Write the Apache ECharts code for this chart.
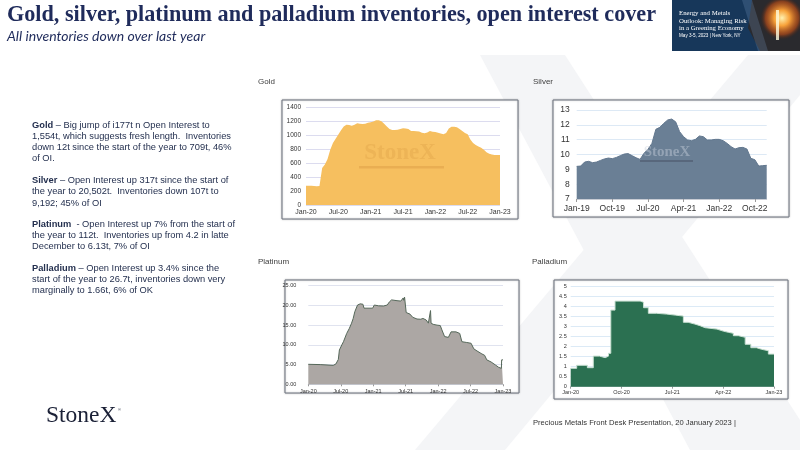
<!DOCTYPE html>
<html><head><meta charset="utf-8">
<script src="https://cdn.jsdelivr.net/npm/echarts@6/dist/echarts.min.js"></script>
<style>html,body{margin:0;padding:0;background:#fff}#c{width:800px;height:450px}</style>
</head><body><div id="c"></div>
<script>
// ---- Data ----
const goldTicks = ['Jan-20','Jul-20','Jan-21','Jul-21','Jan-22','Jul-22','Jan-23'];
// semi-monthly, Jan-20 .. Jan-23 (tonnes)
const goldValues = [275,275,275,272,270,272,530,580,660,790,890,950,1010,1070,1125,1150,1145,1135,1150,1170,
  1165,1160,1165,1180,1185,1195,1215,1215,1200,1165,1125,1090,1075,1075,1080,1090,1100,1095,1090,1062,
  1062,1058,1052,1035,1028,1040,1060,1050,1045,1035,1025,1013,1030,1095,1120,1120,1115,1090,1060,1030,
  1013,940,890,860,840,820,790,755,735,722,717,717,715];

const silverTicks = ['Jan-19','Oct-19','Jul-20','Apr-21','Jan-22','Oct-22'];
// monthly, Jan-19 .. Jan-23 (thousand tonnes)
const silverValues = [9.2,9.22,9.49,9.54,9.45,9.49,9.6,9.7,9.76,9.72,9.8,9.92,10.03,10.06,9.92,9.78,9.67,10.08,10.35,10.75,
  11.7,11.83,12.1,12.33,12.39,12.2,11.54,11.2,10.98,10.93,11.02,11.25,11.2,10.98,10.98,11.02,11.02,10.93,10.75,10.53,
  10.37,10.46,10.48,10.37,9.74,9.65,9.22,9.25,9.27];

const platTicks = ['Jan-20','Jul-20','Jan-21','Jul-21','Jan-22','Jul-22','Jan-23'];
// months since Jan-20
const platMonths = [0,2.2,2.5,4.6,5.1,5.55,5.75,6.2,6.5,7.1,7.6,8.0,8.3,8.6,9.1,9.6,10.1,10.3,11.9,12.2,
  13.0,13.9,14.6,15.0,15.4,16.4,17.1,17.4,17.55,17.65,17.8,18.0,18.1,18.8,19.3,20.1,20.8,21.2,21.8,22.2,
  22.5,22.6,22.7,23.1,23.8,24.4,24.7,25.2,25.9,26.2,26.4,27.3,28.0,28.4,29.3,30.1,30.6,31.2,32.1,32.6,
  33.0,33.8,34.6,35.2,35.7,35.75,36];
const platValues = [5.07,5.0,4.8,4.8,5.15,6.3,8.7,10.0,10.8,12.9,14.2,15.5,16.7,18.4,20.1,20.4,20.3,19.3,19.3,20.1,
  19.9,19.85,20.1,20.9,21.4,21.2,21.1,21.3,21.9,21.3,22.1,22.2,18.2,17.8,17.0,16.55,16.5,16.7,16.3,15.5,
  15.5,18.7,15.5,15.2,15.0,14.9,13.8,12.1,11.9,12.2,13.3,13.3,12.9,10.8,10.6,10.4,9.0,8.45,7.7,7.35,
  6.2,5.66,4.9,4.3,4.05,6.2,6.2];

const pallTicks = ['Jan-20','Oct-20','Jul-21','Apr-22','Jan-23'];
const pallMonths = [0,1.06,2.95,4.0,5.1,6.1,6.7,7.1,7.85,12.3,12.9,13.75,15.2,17,18.5,19.95,20.8,22,22.9,23.8,
  25.9,27,27.9,28.8,29.7,30.9,31.9,32.9,33.8,35,36];
const pallValues = [0.92,1.07,0.95,1.53,1.45,1.53,1.67,3.83,4.28,4.22,3.95,3.67,3.63,3.58,3.53,3.22,3.13,3.05,2.95,2.88,
  2.78,2.72,2.67,2.55,2.47,2.12,1.95,1.87,1.80,1.63,1.63];

// ---- helpers ----
function tickFmt(ticks, step){
  return function(v){ const k = Math.round(v/step); return Math.abs(v-k*step) < 1e-6 && ticks[k] !== undefined ? ticks[k] : ''; };
}
function custom(ticks, step){ return ticks.map((t,i)=>i*step); }

const chart = echarts.init(document.getElementById('c'), null, {renderer:'canvas'});
const SANS = 'Liberation Sans';
const SERIF = 'Liberation Serif';
const NAVY = '#1f2b5b';
const TXT = '#24304f';

const paraRich = {b:{fontWeight:'bold', fontSize:9.3, fontFamily:SANS, fill:TXT, lineHeight:11.2}};
function para(x, y, text){
  return {type:'text', x:x, y:y, z:5, style:{text:text, font:'9.3px '+SANS, fill:TXT, lineHeight:11.2, rich:paraRich}};
}
const frameStyle = {fill:'#fff', stroke:'#6e7480', lineWidth:1, shadowBlur:2, shadowColor:'rgba(0,0,0,0.25)'};

const option = {
  animation:false,
  backgroundColor:'#ffffff',
  grid:[
    {left:306, right:300, top:107.3, bottom:245},
    {left:576.7, right:33.3, top:110, bottom:251},
    {left:308.3, right:297, top:285.7, bottom:65.7},
    {left:570.7, right:26, top:286.7, bottom:63.3}
  ],
  xAxis:[
    {gridIndex:0, type:'value', min:0, max:36, interval:6,
     axisLabel:{formatter:tickFmt(goldTicks,6), fontSize:7, color:'#333', margin:4, fontFamily:SANS},
     axisLine:{show:false}, axisTick:{show:false}, splitLine:{show:false}},
    {gridIndex:1, type:'value', min:0, max:48,
     axisLabel:{customValues:custom(silverTicks,9), formatter:tickFmt(silverTicks,9), fontSize:8.5, color:'#333', margin:5, fontFamily:SANS},
     axisLine:{show:true, lineStyle:{color:'#c8ccd4'}}, axisTick:{show:true, customValues:custom(silverTicks,9), length:3, lineStyle:{color:'#999'}}, splitLine:{show:false}},
    {gridIndex:2, type:'value', min:0, max:36, interval:6,
     axisLabel:{formatter:tickFmt(platTicks,6), fontSize:5.5, color:'#333', margin:4, fontFamily:SANS},
     axisLine:{show:true, lineStyle:{color:'#c8ccd4'}}, axisTick:{show:true, length:2, lineStyle:{color:'#999'}}, splitLine:{show:false}},
    {gridIndex:3, type:'value', min:0, max:36, interval:9,
     axisLabel:{formatter:tickFmt(pallTicks,9), fontSize:5.5, color:'#333', margin:3, fontFamily:SANS},
     axisLine:{show:true, lineStyle:{color:'#c8ccd4'}}, axisTick:{show:true, length:2, lineStyle:{color:'#999'}}, splitLine:{show:false}}
  ],
  yAxis:[
    {gridIndex:0, type:'value', min:0, max:1400, interval:200,
     axisLabel:{fontSize:6.5, color:'#333', margin:5, fontFamily:SANS, formatter:v=>String(v)},
     axisLine:{show:false}, axisTick:{show:false}, splitLine:{lineStyle:{color:'#dcdcef'}}},
    {gridIndex:1, type:'value', min:7, max:13, interval:1,
     axisLabel:{fontSize:8.5, color:'#333', margin:7, fontFamily:SANS},
     axisLine:{show:false}, axisTick:{show:false}, splitLine:{lineStyle:{color:'#dde9f5'}}},
    {gridIndex:2, type:'value', min:0, max:25, interval:5,
     axisLabel:{fontSize:5.5, color:'#333', margin:12, fontFamily:SANS, formatter:v=>v.toFixed(2)},
     axisLine:{show:false}, axisTick:{show:false}, splitLine:{lineStyle:{color:'#e0e3ef'}}},
    {gridIndex:3, type:'value', min:0, max:5, interval:0.5,
     axisLabel:{fontSize:5.5, color:'#333', margin:4, fontFamily:SANS},
     axisLine:{show:false}, axisTick:{show:false}, splitLine:{lineStyle:{color:'#dceaf6'}}}
  ],
  series:[
    {type:'line', xAxisIndex:0, yAxisIndex:0, symbol:'none', silent:true,
     data:goldValues.map((v,i)=>[i/2, v]),
     lineStyle:{opacity:0}, areaStyle:{color:'#f6bf5f', opacity:1}},
    {type:'line', xAxisIndex:1, yAxisIndex:1, symbol:'none', silent:true,
     data:silverValues.map((v,i)=>[i, v]),
     lineStyle:{color:'#62778e', width:1}, areaStyle:{color:'#6a7f95', opacity:1}},
    {type:'line', xAxisIndex:2, yAxisIndex:2, symbol:'none', silent:true,
     data:platMonths.map((m,i)=>[m, platValues[i]]),
     lineStyle:{color:'#56685a', width:1}, areaStyle:{color:'#aca7a4', opacity:1}},
    {type:'line', xAxisIndex:3, yAxisIndex:3, symbol:'none', silent:true, step:'end',
     data:pallMonths.map((m,i)=>[m, pallValues[i]]),
     lineStyle:{color:'#c9e0d2', width:1}, areaStyle:{color:'#2b7051', opacity:1}}
  ],
  graphic:{elements:[
    // watermark X (background)
    {type:'polygon', z:-3, shape:{points:[[480,55],[565,55],[800,420],[800,450],[690,450]]}, style:{fill:'#f4f5f7'}},
    {type:'polygon', z:-3, shape:{points:[[748,55],[800,55],[800,95],[505,450],[415,450]]}, style:{fill:'#f4f5f7'}},
    // chart frames (behind axes)
    {type:'rect', z:-2, shape:{x:282,y:100,width:236,height:119}, style:frameStyle},
    {type:'rect', z:-2, shape:{x:553,y:100,width:236,height:117}, style:frameStyle},
    {type:'rect', z:-2, shape:{x:285,y:280,width:234,height:113}, style:frameStyle},
    {type:'rect', z:-2, shape:{x:554,y:280,width:234,height:119}, style:frameStyle},
    // StoneX watermarks inside charts
    {type:'text', z:10, x:400, y:153, style:{text:'StoneX', font:'bold 23px '+SERIF, fill:'rgba(205,140,55,0.22)', align:'center', verticalAlign:'middle'}},
    {type:'rect', z:10, shape:{x:359,y:166,width:85,height:2.5}, style:{fill:'rgba(200,130,50,0.28)'}},
    {type:'text', z:10, x:667, y:152, style:{text:'StoneX', font:'bold 15px '+SERIF, fill:'rgba(200,208,220,0.45)', align:'center', verticalAlign:'middle'}},
    {type:'rect', z:10, shape:{x:640,y:160,width:53,height:2}, style:{fill:'rgba(70,80,100,0.5)'}},
    // titles
    {type:'text', z:5, x:7, y:4, style:{text:'Gold, silver, platinum and palladium inventories, open interest cover', font:'bold 22.2px '+SERIF, fill:NAVY}},
    {type:'text', z:5, x:7, y:29, style:{text:'All inventories down over last year', font:'italic 14px Lato', fill:NAVY}},
    // chart labels
    {type:'text', z:5, x:258, y:78, style:{text:'Gold', font:'8px '+SANS, fill:'#404040'}},
    {type:'text', z:5, x:533, y:78, style:{text:'Silver', font:'8px '+SANS, fill:'#404040'}},
    {type:'text', z:5, x:258, y:258, style:{text:'Platinum', font:'8px '+SANS, fill:'#404040'}},
    {type:'text', z:5, x:532, y:258, style:{text:'Palladium', font:'8px '+SANS, fill:'#404040'}},
    // commentary
    para(32, 119.5, '{b|Gold} – Big jump of i177t n Open Interest to\n1,554t, which suggests fresh length.  Inventories\ndown 12t since the start of the year to 709t, 46%\nof OI.'),
    para(32, 175, '{b|Silver} – Open Interest up 317t since the start of\nthe year to 20,502t.  Inventories down 107t to\n9,192; 45% of OI'),
    para(32, 218.7, '{b|Platinum}  - Open Interest up 7% from the start of\nthe year to 112t.  Inventories up from 4.2 in latte\nDecember to 6.13t, 7% of OI'),
    para(32, 262.7, '{b|Palladium} – Open Interest up 3.4% since the\nstart of the year to 26.7t, inventories down very\nmarginally to 1.66t, 6% of OK'),
    // footer
    {type:'text', z:5, x:46, y:404, style:{text:'StoneX', font:'23.5px '+SERIF, fill:'#1a2036'}},
    {type:'text', z:5, x:118, y:408, style:{text:'®', font:'4px '+SANS, fill:'#1a2036'}},
    {type:'text', z:5, x:533, y:419, style:{text:'Precious Metals Front Desk Presentation, 20 January 2023 |', font:'7.6px "Liberation Sans Narrow", '+SANS, fill:'#333'}},
    // banner
    {type:'rect', z:5, shape:{x:672,y:0,width:128,height:51}, style:{fill:'#17375a'}},
    {type:'polygon', z:6, shape:{points:[[752,0],[800,0],[800,51],[760,51],[748,28]]}, style:{fill:'#2a2a2e'}},
    {type:'circle', z:7, shape:{cx:782,cy:18,r:22}, style:{fill:new echarts.graphic.RadialGradient(0.5,0.5,0.5,[{offset:0,color:'#fff1b0'},{offset:0.35,color:'#f7a23a'},{offset:0.75,color:'rgba(200,80,20,0.6)'},{offset:1,color:'rgba(60,30,20,0)'}])}},
    {type:'rect', z:8, shape:{x:776,y:10,width:3,height:30}, style:{fill:'rgba(255,250,220,0.8)'}},
    {type:'polygon', z:8, shape:{points:[[742,0],[752,0],[768,51],[758,51]]}, style:{fill:'rgba(120,150,190,0.25)'}},
    {type:'text', z:9, x:679, y:10, style:{text:'Energy and Metals\nOutlook: Managing Risk\nin a Greening Economy', font:'6.8px '+SERIF, fill:'#ffffff', lineHeight:7.2}},
    {type:'text', z:9, x:679, y:33, style:{text:'May 3-5, 2023 | New York, NY', font:'4.6px '+SANS, fill:'#ffffff'}}
  ]}
};
chart.setOption(option);
</script>
</body></html>
